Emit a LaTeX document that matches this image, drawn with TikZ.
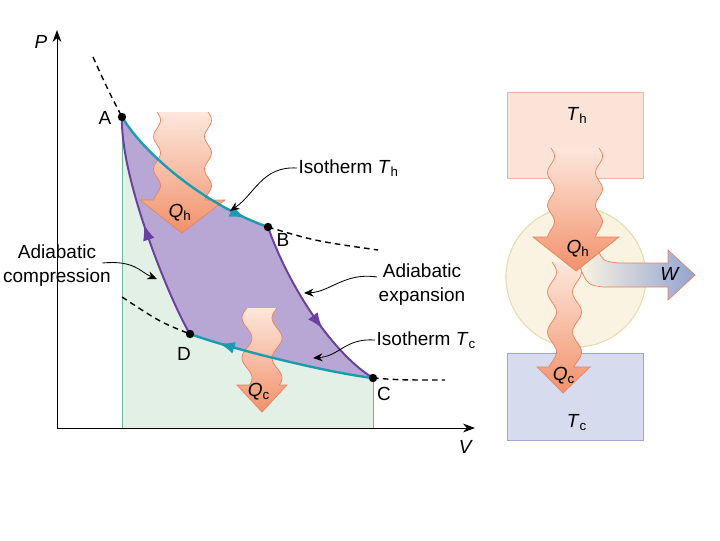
\documentclass[tikz,border=0pt]{standalone}
\usepackage{fontspec}
\setmainfont{Liberation Sans}
\usetikzlibrary{arrows.meta, calc, decorations.markings}
\definecolor{cyclepurple}{HTML}{B8A7D4}
\definecolor{cycleline}{HTML}{6A40A0}
\definecolor{isoteal}{HTML}{1A9CB0}
\definecolor{workgreen}{HTML}{E2F0E5}
\definecolor{edgegreen}{HTML}{6DB7A0}
\definecolor{heatlight}{HTML}{FDE7DC}
\definecolor{heatdark}{HTML}{F2916B}
\definecolor{heatedge}{HTML}{E8825E}
\definecolor{hotbox}{HTML}{FBE3D8}
\definecolor{hotedge}{HTML}{E6B6A2}
\definecolor{coldbox}{HTML}{D6DBEE}
\definecolor{coldedge}{HTML}{9EA6C9}
\definecolor{enginefill}{HTML}{FAF3E1}
\definecolor{engineedge}{HTML}{E3DEB0}
\definecolor{workblue}{HTML}{93A3D0}
\newcommand{\symsub}[2]{\textit{#1}\textsubscript{#2}}

\begin{document}
\begin{tikzpicture}[x=0.025cm, y=-0.025cm, font=\fontsize{13.5}{17}\selectfont,
    callout/.style={-{Stealth[length=2.4mm, width=2mm]}, line width=0.6pt},
    guide/.style={line width=1pt, dash pattern=on 4pt off 3pt},
    iso/.style={isoteal, line width=1.7pt},
    adia/.style={cycleline, line width=1.4pt},
    midarrow/.style={postaction={decorate}, decoration={markings,
        mark=at position #1 with {\arrow{Latex[length=4mm, width=3mm]}}}},
    heat/.style={draw=heatedge, line width=0.5pt, top color=heatlight, bottom color=heatdark},
    lbl/.style={inner sep=1pt}]
  \useasboundingbox (0,0) rectangle (720,540);

  % state points
  \coordinate (A) at (122,117);
  \coordinate (B) at (268,227);
  \coordinate (C) at (373,378);
  \coordinate (D) at (190,334);

  % work area and cycle
  \fill[workgreen] (122,428) -- (A) .. controls (145,155) and (205,205) .. (B)
      .. controls (290,290) and (335,355) .. (C) -- (373,428) -- cycle;
  \fill[cyclepurple] (A) .. controls (145,155) and (205,205) .. (B)
      .. controls (290,290) and (335,355) .. (C)
      .. controls (330,373) and (235,350) .. (D)
      .. controls (172,305) and (120,180) .. (A) -- cycle;
  \draw[edgegreen, line width=0.6pt] (122,428) -- (A);
  \draw[edgegreen, line width=0.6pt] (373,428) -- (C);

  % axes
  \draw[-{Stealth[length=3mm, width=2.2mm]}, line width=0.7pt] (57,428) -- (57,30);
  \draw[-{Stealth[length=3mm, width=2.2mm]}, line width=0.7pt] (57,428) -- (475,428);
  \node[lbl] (plbl) at (41,42) {\textit{P}};
  \node[lbl] (vlbl) at (466,447) {\textit{V}};

  % heat arrows on the diagram (open at the top)
  \path[heat] (157,112) -- plot[variable=\t, domain=112:200, samples=40] ({157+3.5*sin(11*(\t-112))},\t)
      -- (140,200) -- (182,233) -- (225,200)
      -- plot[variable=\t, domain=200:112, samples=40] ({208+3.5*sin(11*(\t-112))},\t);
  \path[heat] (247,308) -- plot[variable=\t, domain=308:385, samples=40] ({247-5*sin(9*(\t-308))},\t)
      -- (237,385) -- (262,412) -- (287,385)
      -- plot[variable=\t, domain=385:308, samples=40] ({277-5*sin(9*(\t-308))},\t);
  \node[lbl] (qh) at (180,213) {\symsub{Q}{h}};
  \node[lbl] (qc) at (259,392) {\symsub{Q}{c}};

  % isotherm guides
  \draw[guide] (93,57) .. controls (108,90) .. (A);
  \draw[guide] (B) .. controls (315,241) .. (378,250);
  \draw[guide] (122,297) .. controls (160,322) .. (D);
  \draw[guide] (C) .. controls (400,380) .. (445,380);

  % the cycle
  \draw[iso, midarrow=0.87] (A) .. controls (145,155) and (205,205) .. (B);
  \draw[adia, midarrow=0.62] (B) .. controls (290,290) and (335,355) .. (C);
  \draw[iso, midarrow=0.84] (C) .. controls (330,373) and (235,350) .. (D);
  \draw[adia, midarrow=0.52] (D) .. controls (172,305) and (120,180) .. (A);
  \foreach \p in {A,B,C,D} \fill (\p) circle (4.2);
  \node[lbl] (alb) at (105,118) {A};
  \node[lbl] (blb) at (283,240) {B};
  \node[lbl] (clb) at (384,394) {C};
  \node[lbl] (dlb) at (184,354) {D};

  % callouts
  \node[lbl, anchor=west] (isoh) at (297,168) {Isotherm \symsub{T}{h}};
  \node[lbl, align=center] (expa) at (422,285) {Adiabatic\\expansion};
  \node[lbl, anchor=west] (isoc) at (375,340) {Isotherm \symsub{T}{c}};
  \node[lbl, align=center] (comp) at (57,266) {Adiabatic\\compression};
  \draw[callout] (isoh.west) .. controls (262,166) and (255,194) .. (230,211);
  \draw[callout] ($(expa.west)+(0,-8)$) .. controls (345,272) and (330,292) .. (304,293);
  \draw[callout] (isoc.west) .. controls (345,338) and (340,356) .. (313,358);
  \draw[callout] ($(comp.east)+(-10,-3)$) .. controls (135,260) and (140,272) .. (157,279);

  % engine schematic
  \node[draw=hotedge, fill=hotbox, line width=0.6pt, minimum width=3.4cm, minimum height=2.15cm] (hot) at (575,135) {};
  \node[draw=coldedge, fill=coldbox, line width=0.6pt, minimum width=3.4cm, minimum height=2.17cm] (cold) at (575,397) {};
  \node[circle, draw=engineedge, fill=enginefill, line width=0.8pt, minimum size=3.5cm] (engine) at (576,277) {};
  \node[lbl] (th) at (577,115) {\symsub{T}{h}};
  \node[lbl] (tc) at (577,423) {\symsub{T}{c}};

  \path[draw=heatedge, line width=0.5pt, left color=enginefill, right color=workblue]
      (598,250) .. controls (603,261) .. (618,263) -- (668,263) -- (668,250) -- (695,275)
      -- (668,300) -- (668,287) -- (603,287) .. controls (588,285) .. (580,268) -- cycle;
  \path[heat] (552,262) -- plot[variable=\t, domain=262:367, samples=40] ({552+4.5*sin(9*(\t-262))},\t)
      -- (537,367) -- (563,393) -- (590,367)
      -- plot[variable=\t, domain=367:262, samples=40] ({577+4.5*sin(9*(\t-262))},\t);
  \path[heat] (551,148) -- plot[variable=\t, domain=148:237, samples=40] ({551+3.5*sin(11*(\t-148))},\t)
      -- (533,237) -- (576,271) -- (619,237)
      -- plot[variable=\t, domain=237:148, samples=40] ({599+3.5*sin(11*(\t-148))},\t);
  \node[lbl] (qhr) at (578,249) {\symsub{Q}{h}};
  \node[lbl] (qcr) at (564,376) {\symsub{Q}{c}};
  \node[lbl] (wlbl) at (670,274) {\textit{W}};
\end{tikzpicture}
\end{document}
